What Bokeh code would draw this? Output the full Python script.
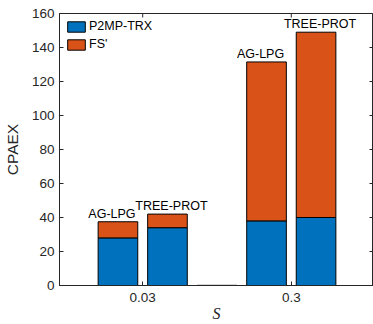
import numpy as np
from bokeh.plotting import figure
from bokeh.models import Range1d, FixedTicker, Legend, LegendItem
from bokeh.core.properties import value
from bokeh.embed import file_html
from bokeh.resources import INLINE

# ---- data ----
s_labels = ["0.03", "0.3"]
bar_labels = ["AG-LPG", "TREE-PROT", "", "AG-LPG", "TREE-PROT"]
bar_group = [0, 0, -1, 1, 1]          # -1 = empty spacer slot
p2mp_trx = [28, 34, 0, 38, 40]
fs = [9.5, 8, 0, 93.5, 109]
y_ticks = [0, 20, 40, 60, 80, 100, 120, 140, 160]

BLUE = "#0072BD"
ORANGE = "#D95319"
AX = "#262626"
FONT = "Liberation Sans"

x = np.arange(1, len(p2mp_trx) + 1, dtype=float)
blue = np.array(p2mp_trx, dtype=float)
orange = np.array(fs, dtype=float)
total = blue + orange
grp = np.array(bar_group)
real = grp >= 0
tick_pos = [float(x[grp == g].mean()) for g in range(len(s_labels))]

XR = Range1d(-0.18, 6.16)
YR = Range1d(0, 160)
p = figure(width=373, height=324, output_backend="svg", toolbar_location=None,
           x_range=XR, y_range=YR,
           min_border_left=56, min_border_right=0, min_border_top=13,
           min_border_bottom=39)
p.grid.visible = False
p.outline_line_color = AX
p.background_fill_color = "white"

# bars
rb = p.vbar(x=x[real], width=0.8, bottom=0, top=blue[real], fill_color=BLUE,
            line_color="black", line_width=1)
ro = p.vbar(x=x[real], width=0.8, bottom=blue[real], top=total[real],
            fill_color=ORANGE, line_color="black", line_width=1)
# empty spacer bar (zero height)
p.vbar(x=x[~real], width=0.8, bottom=0.4, top=0.4, fill_color=None,
       line_color="#d0d0d0", line_width=1)

# labels above bars
for name, dx in (("AG-LPG", -6), ("TREE-PROT", 4)):
    m = np.array([b == name for b in bar_labels])
    p.text(x=x[m], y=total[m], text=[name] * int(m.sum()),
           text_font=value(FONT), text_font_size="12.5px", text_color="black",
           text_align="center", text_baseline="bottom",
           x_offset=dx, y_offset=-1)

# mirrored ticks on top and right edges (inside)
p.scatter(x=tick_pos, y=[YR.end] * len(tick_pos), marker="dash", size=8,
          angle=np.pi / 2, line_color=AX, line_width=1)
p.scatter(x=[XR.end] * len(y_ticks), y=y_ticks, marker="dash", size=8,
          line_color=AX, line_width=1)

# axes
yax = p.yaxis[0]
yax.ticker = FixedTicker(ticks=y_ticks)
yax.axis_label = "CPAEX"
xax = p.xaxis[0]
xax.ticker = FixedTicker(ticks=tick_pos)
xax.major_label_overrides = {tick_pos[i]: s_labels[i] for i in range(len(s_labels))}
xax.axis_label = "S"

for ax in (xax, yax):
    ax.axis_line_color = AX
    ax.major_tick_line_color = AX
    ax.major_tick_in = 4
    ax.major_tick_out = 0
    ax.minor_tick_line_color = None
    ax.major_label_text_font = FONT
    ax.major_label_text_font_size = "13.5px"
    ax.major_label_text_color = AX
    ax.axis_label_text_color = AX

yax.major_label_standoff = 5
yax.axis_label_text_font = FONT
yax.axis_label_text_font_size = "15.5px"
yax.axis_label_text_font_style = "normal"
yax.axis_label_standoff = 8

xax.major_label_standoff = 7
xax.axis_label_text_font = "Liberation Serif"
xax.axis_label_text_font_size = "16px"
xax.axis_label_text_font_style = "italic"
xax.axis_label_standoff = 0

legend = Legend(items=[LegendItem(label="P2MP-TRX", renderers=[rb]),
                       LegendItem(label="FS'", renderers=[ro])],
                location="top_left")
legend.margin = 0
legend.padding = 6
legend.spacing = 4
legend.glyph_width = 22
legend.glyph_height = 13
legend.label_height = 13
legend.label_standoff = 2
legend.label_text_font = FONT
legend.label_text_font_size = "12.5px"
legend.label_text_color = "black"
legend.border_line_alpha = 0
legend.background_fill_alpha = 0
p.add_layout(legend)

open("out.html", "w").write(file_html(p, INLINE))
